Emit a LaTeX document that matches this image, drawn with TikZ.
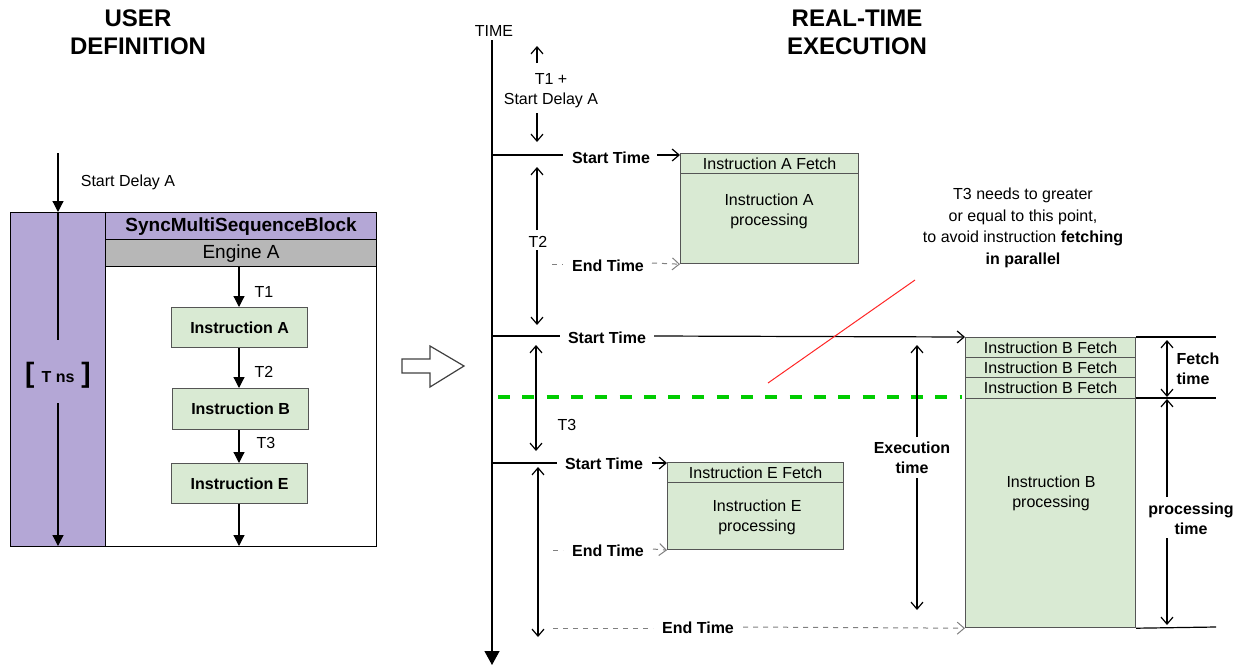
\documentclass[tikz,border=0pt]{standalone}
\usepackage{fontspec}
\setmainfont{Liberation Sans}
\usetikzlibrary{arrows.meta,calc}
\definecolor{purp}{HTML}{B4A7D6}
\definecolor{grn}{HTML}{D9EAD3}
\definecolor{gry}{HTML}{B7B7B7}
\definecolor{bord}{HTML}{555555}
\definecolor{dgreen}{HTML}{00CC00}
\definecolor{dgray}{HTML}{808080}
\begin{document}
\begin{tikzpicture}[x=1pt,y=-1pt,line width=1.2pt,
  txt/.style={font=\fontsize{16}{20}\selectfont, inner sep=0pt},
  btxt/.style={font=\fontsize{16}{20}\selectfont\bfseries, inner sep=0pt},
  ttl/.style={font=\fontsize{24}{28}\selectfont\bfseries, align=center, inner sep=0pt},
  gbox/.style={draw=bord, fill=grn, line width=1.2pt, inner sep=0pt, anchor=north west, font=\fontsize{16}{20}\selectfont},
  farr/.style={arrows={-Triangle[length=11pt,width=11pt]}},
  sb/.style={arrows={-Straight Barb[length=7pt,width=12pt]}},
  dbl/.style={arrows={Straight Barb[length=7pt,width=12pt]-Straight Barb[length=7pt,width=12pt]}},
  dsh/.style={draw=dgray, line width=1pt, dash pattern=on 5pt off 5pt},
  dsharr/.style={dsh, arrows={-Straight Barb[length=7pt,width=12pt]}}
]
\useasboundingbox (0,0) rectangle (1244,667);

% ---------------- titles
\node[ttl] (t1) at (138,32) {USER\\DEFINITION};
\node[ttl] (t2) at (857,32) {REAL-TIME\\EXECUTION};

% ---------------- left: user definition
\node[draw, anchor=north west, minimum width=366, minimum height=334, inner sep=0pt] (outer) at (10,212) {};
\node[draw, fill=purp, anchor=north west, minimum width=95, minimum height=334, inner sep=0pt] (col) at (10,212) {};
\node[draw, fill=purp, anchor=north west, minimum width=271, minimum height=27, inner sep=0pt,
      font=\fontsize{19}{22}\selectfont\bfseries] (hdr) at (105,212) {SyncMultiSequenceBlock};
\node[draw, fill=gry, anchor=north west, minimum width=271, minimum height=27, inner sep=0pt,
      font=\fontsize{19}{22}\selectfont] (eng) at (105,239) {Engine A};

\coordinate (sdtop) at (58,153);
\coordinate (sdbot) at (58,212);
\draw[farr] (sdtop) -- (sdbot);
\node[txt] (sdl) at (128,182) {Start Delay A};

\node[inner sep=0pt] (tns) at (58,375) {{\fontsize{28}{28}\selectfont\bfseries[}\hspace{7pt}{\fontsize{16}{20}\selectfont\bfseries T ns}\hspace{7pt}{\fontsize{28}{28}\selectfont\bfseries]}};
\coordinate (c1) at (58,340);
\coordinate (c2) at (58,403);
\coordinate (c3) at (58,546);
\draw (sdbot) -- (c1);
\draw[farr] (c2) -- (c3);

\node[gbox, minimum width=136, minimum height=40, font=\fontsize{16}{20}\selectfont\bfseries] (iA) at (171,307) {Instruction A};
\node[gbox, minimum width=136, minimum height=41, font=\fontsize{16}{20}\selectfont\bfseries] (iB) at (172,388) {Instruction B};
\node[gbox, minimum width=136, minimum height=40, font=\fontsize{16}{20}\selectfont\bfseries] (iE) at (171,463) {Instruction E};
\coordinate (e0) at (239,266);
\coordinate (eEnd) at (239,546);
\draw[farr] (e0) -- (e0 |- iA.north);
\draw[farr] (e0 |- iA.south) -- (e0 |- iB.north);
\draw[farr] (e0 |- iB.south) -- (e0 |- iE.north);
\draw[farr] (e0 |- iE.south) -- (eEnd);
\node[txt] (lT1) at (264,292) {T1};
\node[txt] (lT2) at (264,372) {T2};
\node[txt] (lT3) at (266,443) {T3};

% ---------------- big hollow arrow
\draw[draw=black!75, line width=1.2pt] (402,359) -- (430,359) -- (430,346) -- (464,366) -- (430,387) -- (430,373) -- (402,373) -- cycle;

% ---------------- right: time axis
\node[txt] (time) at (494,31) {TIME};
\coordinate (ax0) at (492,40);
\coordinate (ax1) at (492,665);
\draw[arrows={-Triangle[length=14pt,width=15pt]}] (ax0) -- (ax1);

% T1 + start delay
\node[txt, align=center] (lT1b) at (551,91) {T1 +\\Start Delay A};
\coordinate (a1) at (537,63); \coordinate (a2) at (537,46);
\coordinate (a3) at (537,113); \coordinate (a4) at (537,142);
\draw[sb] (a1) -- (a2);
\draw[sb] (a3) -- (a4);

% Instruction A
\node[gbox, minimum width=178, minimum height=20] (bAf) at (680,153) {Instruction A Fetch};
\node[gbox, minimum width=178, minimum height=90, align=center] (bAp) at (680,173) {};
\node[txt, align=center] (bApt) at (769,211) {Instruction A\\processing};

\node[btxt] (st1) at (611,158) {Start Time};
\draw (ax0 |- 0,155) -- (563,155);
\coordinate (st1a) at (657,155);
\draw[sb] (st1a) -- (bAf.north west |- st1a);

% T2
\node[txt] (lT2b) at (538,242) {T2};
\coordinate (b1) at (537,230); \coordinate (b2) at (537,167);
\coordinate (b3) at (537,250); \coordinate (b4) at (537,325);
\draw[sb] (b1) -- (b2);
\draw[sb] (b3) -- (b4);

\node[btxt] (et1) at (608,266) {End Time};
\coordinate (et1a) at (552,264); \coordinate (et1b) at (563,264);
\draw[dsh] (et1a) -- (et1b);
\coordinate (et1c) at (652,263);
\draw[dsharr] (et1c) -- (bAp.south west);

% second start time
\node[btxt] (st2) at (607,338) {Start Time};
\coordinate (st2a) at (492,336); \coordinate (st2b) at (560,336);
\draw (st2a) -- (st2b);
\coordinate (st2c) at (654,336);

% Instruction B
\node[gbox, minimum width=170, minimum height=20] (bBf1) at (965,337) {Instruction B Fetch};
\node[gbox, minimum width=170, minimum height=20] (bBf2) at (965,357) {Instruction B Fetch};
\node[gbox, minimum width=170, minimum height=21] (bBf3) at (965,377) {Instruction B Fetch};
\node[gbox, minimum width=170, minimum height=229] (bBp) at (965,398) {};
\node[txt, align=center] (bBpt) at (1051,493) {Instruction B\\processing};
\draw[sb] (st2c) -- (bBf1.north west);

% red pointer + note
\coordinate (r1) at (768,383); \coordinate (r2) at (915,280);
\draw[red!85, line width=1pt] (r1) -- (r2);
\node[txt, align=center, font=\fontsize{16}{21.5}\selectfont] (note) at (1023,228)
  {T3 needs to greater\\or equal to this point,\\to avoid instruction \textbf{fetching}\\\textbf{in parallel}};

% green dashed line
\coordinate (g1) at (498,397); \coordinate (g2) at (962,397);
\draw[dgreen, line width=4pt, dash pattern=on 12pt off 12.3pt] (g1) -- (g2);

% T3
\coordinate (c31) at (536,345); \coordinate (c32) at (536,451);
\draw[dbl] (c31) -- (c32);
\node[txt] (lT3b) at (567,425) {T3};

% third start time
\node[btxt] (st3) at (604,464) {Start Time};
\coordinate (st3a) at (492,463); \coordinate (st3b) at (557,463);
\draw (st3a) -- (st3b);
\node[gbox, minimum width=176, minimum height=20] (bEf) at (667,462) {Instruction E Fetch};
\node[gbox, minimum width=176, minimum height=67] (bEp) at (667,482) {};
\node[txt, align=center] (bEpt) at (757,517) {Instruction E\\processing};
\coordinate (st3c) at (652,463);
\draw[sb] (st3c) -- (bEf.north west |- st3c);

% E duration
\coordinate (d1) at (538,467); \coordinate (d2) at (538,637);
\draw[dbl] (d1) -- (d2);

\node[btxt] (et2) at (608,551) {End Time};
\coordinate (et2a) at (553,550); \coordinate (et2b) at (563,550);
\draw[dsh] (et2a) -- (et2b);
\coordinate (et2c) at (653,549);
\draw[dsharr] (et2c) -- (bEp.south west);

% bottom end time
\node[btxt] (et3) at (698,628) {End Time};
\coordinate (et3a) at (553,628); \coordinate (et3b) at (653,628);
\draw[dsh] (et3a) -- (et3b);
\coordinate (et3c) at (743,627);
\draw[dsharr] (et3c) -- (bBp.south west);

% execution time
\node[btxt, align=center] (ext) at (912,458) {Execution\\time};
\coordinate (x1) at (917,437); \coordinate (x2) at (917,345);
\coordinate (x3) at (917,478); \coordinate (x4) at (917,610);
\draw[sb] (x1) -- (x2);
\draw[sb] (x3) -- (x4);

% right side measures
\coordinate (h1) at (1216,337); \coordinate (h2) at (1216,398); \coordinate (h3) at (1216,627);
\draw (bBf1.north east) -- (h1);
\draw (bBp.north east) -- (h2);
\draw (bBp.south east) -- (h3);

\coordinate (f1) at (1167,340); \coordinate (f2) at (1167,397);
\draw[dbl] (f1) -- (f2);
\node[btxt, align=left] (ft) at (1176,369) [anchor=west] {Fetch\\time};

\node[btxt, align=center] (pt) at (1191,519) {processing\\time};
\coordinate (p1) at (1167,497); \coordinate (p2) at (1167,399);
\coordinate (p3) at (1167,538); \coordinate (p4) at (1167,625);
\draw[sb] (p1) -- (p2);
\draw[sb] (p3) -- (p4);
\end{tikzpicture}
\end{document}
